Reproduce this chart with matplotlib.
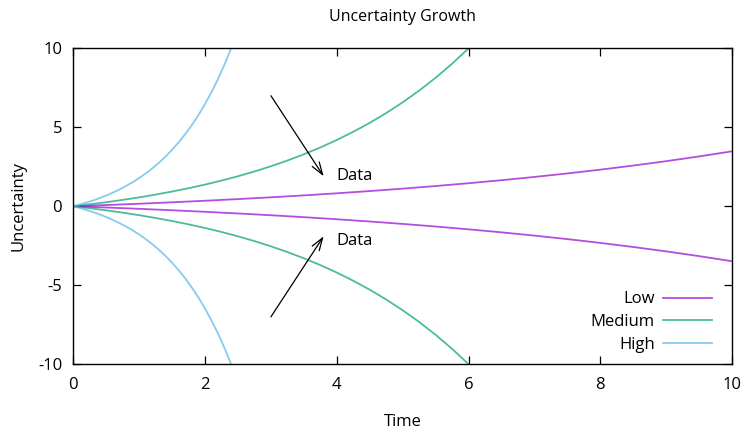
import matplotlib
matplotlib.use("Agg")
import matplotlib.pyplot as plt
import numpy as np

plt.rcParams['font.family'] = ['Open Sans', 'DejaVu Sans']
plt.rcParams['axes.unicode_minus'] = False

# Data (upper branch; lower branch is its mirror)
t_low = [0, 0.5, 1, 1.5, 2, 2.5, 3, 3.5, 4, 4.5, 5, 5.5, 6, 6.5, 7, 7.5, 8, 8.5, 9, 9.5, 10]
low = [0, 0.078, 0.162, 0.252, 0.350, 0.455, 0.568, 0.690, 0.822, 0.964, 1.117,
       1.282, 1.460, 1.651, 1.858, 2.080, 2.320, 2.579, 2.857, 3.158, 3.482]

t_med = [0, 0.25, 0.5, 0.75, 1.0, 1.25, 1.5, 1.75, 2.0, 2.25, 2.5, 2.75, 3.0,
         3.25, 3.5, 3.75, 4.0, 4.25, 4.5, 4.75, 5.0, 5.25, 5.5, 5.75, 6.0]
medium = [0, 0.123, 0.257, 0.404, 0.565, 0.741, 0.934, 1.144, 1.375, 1.627, 1.903,
          2.205, 2.536, 2.898, 3.293, 3.726, 4.200, 4.718, 5.285, 5.906, 6.585,
          7.328, 8.141, 9.030, 10.003]

t_high = [0, 0.1, 0.2, 0.3, 0.4, 0.5, 0.6, 0.7, 0.8, 0.9, 1.0, 1.1, 1.2, 1.3,
          1.4, 1.5, 1.6, 1.7, 1.8, 1.9, 2.0, 2.1, 2.2, 2.3, 2.4]
high = [0, 0.111, 0.234, 0.369, 0.518, 0.682, 0.863, 1.062, 1.281, 1.522, 1.787,
        2.080, 2.402, 2.756, 3.148, 3.578, 4.052, 4.574, 5.148, 5.781, 6.478,
        7.246, 8.092, 9.023, 10.049]

series_names = ["Low", "Medium", "High"]
colors = ["#9400d3", "#009e73", "#56b4e9"]

arrows = [((3.0, 7.0), (3.8, 1.9)), ((3.0, -7.0), (3.8, -1.9))]
labels = [(4.0, 1.9, "Data"), (4.0, -2.2, "Data")]

fig = plt.figure(figsize=(7.47, 4.32), dpi=100)
ax = fig.add_axes([0.0981, 0.157, 0.882, 0.731])

data = [(t_low, low), (t_med, medium), (t_high, high)]
for (t, v), name, c in zip(data, series_names, colors):
    ax.plot(t, v, color=c, lw=1.3, alpha=0.7, label=name)
    ax.plot(t, -np.array(v), color=c, lw=1.3, alpha=0.7)

for (x0, y0), (x1, y1) in arrows:
    ax.annotate("", xy=(x1, y1), xytext=(x0, y0),
                arrowprops=dict(arrowstyle="->,head_length=0.9,head_width=0.3",
                                color="black", lw=0.9, shrinkA=0, shrinkB=0))
for x, y, s in labels:
    ax.text(x, y, s, ha="left", va="center", fontsize=12)

ax.set_xlim(0, 10)
ax.set_ylim(-10, 10)
ax.set_xticks([0, 2, 4, 6, 8, 10])
ax.set_yticks([-10, -5, 0, 5, 10])
ax.tick_params(direction="in", length=6, width=0.9, top=True, right=True,
               labelsize=12)
ax.tick_params(axis="x", pad=9.5)
ax.tick_params(axis="y", pad=8)
for sp in ax.spines.values():
    sp.set_linewidth(1.0)

ax.set_title("Uncertainty Growth", fontsize=11.5, pad=20)
ax.set_xlabel("Time", fontsize=12, labelpad=15)
ax.set_ylabel("Uncertainty", fontsize=12, labelpad=8)

leg = ax.legend(loc="lower right", bbox_to_anchor=(0.9697, 0.036),
                frameon=False, markerfirst=False,
                fontsize=12, handlelength=2.95, handletextpad=0.5,
                labelspacing=0.4, borderaxespad=0, borderpad=0)
for col in leg._legend_box._children[-1]._children:
    col.align = "right"

fig.savefig("out.png", dpi=100)
